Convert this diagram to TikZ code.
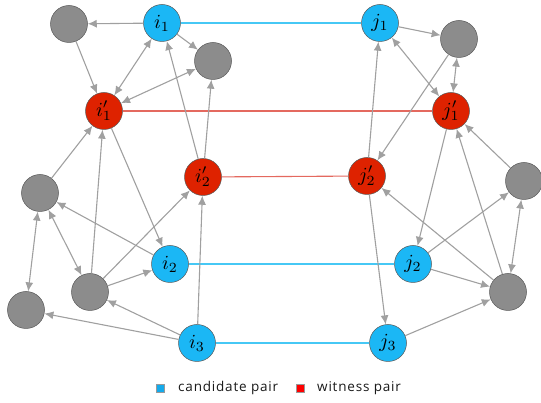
\documentclass[tikz,border=0pt]{standalone}
\usepackage{fontspec}
\newfontfamily\legendfont[LetterSpace=6]{Open Sans}
\usetikzlibrary{arrows.meta}
\definecolor{nblue}{RGB}{27,183,245}
\definecolor{nred}{RGB}{222,34,0}
\definecolor{ngray}{RGB}{140,140,140}
\definecolor{egray}{RGB}{160,160,160}
\definecolor{lblue}{RGB}{70,200,245}
\definecolor{lred}{RGB}{228,105,95}
\definecolor{sqblue}{RGB}{20,170,235}
\newcommand{\lbl}[1]{\scalebox{2}{$#1$}}
\tikzset{
  vtx/.style={circle,minimum size=37pt,inner sep=0pt,draw=black!65,line width=0.5pt},
  cand/.style={vtx,fill=nblue},
  wit/.style={vtx,fill=nred},
  oth/.style={vtx,fill=ngray},
  edge/.style={draw=egray,line width=1.1pt},
  tip/.tip={Latex[length=9pt,width=8pt]},
  ar/.style={edge,-tip},
  bi/.style={edge,tip-tip},
  bluepair/.style={draw=lblue,line width=1.1pt},
  redpair/.style={draw=lred,line width=1.1pt},
  sq/.style={minimum size=8pt,inner sep=0pt,draw=black!40,line width=0.3pt},
  lgtext/.style={anchor=west,inner sep=0pt,text=black!90,font=\legendfont\fontsize{13.5}{13.5}\selectfont}
}
\begin{document}
\begin{tikzpicture}[x=1pt,y=1pt]
\useasboundingbox (0,0) rectangle (541,403);
% nodes
\node[oth] (g1) at (69,379) {};
\node[cand] (i1) at (162,380) {\lbl{i_1}};
\node[oth] (g2) at (213,342) {};
\node[wit] (i1p) at (104,292) {\lbl{i'_1}};
\node[wit] (i2p) at (203,226) {\lbl{i'_2}};
\node[oth] (g3) at (40,210) {};
\node[cand] (i2) at (170,139) {\lbl{i_2}};
\node[oth] (g4) at (90,111) {};
\node[oth] (g5) at (26,93) {};
\node[cand] (i3) at (197,60) {\lbl{i_3}};
\node[cand] (j1) at (380,380) {\lbl{j_1}};
\node[oth] (g6) at (459,364) {};
\node[wit] (j1p) at (451,292) {\lbl{j'_1}};
\node[wit] (j2p) at (367,227) {\lbl{j'_2}};
\node[oth] (g7) at (524,222) {};
\node[cand] (j2) at (413,139) {\lbl{j_2}};
\node[oth] (g8) at (508,111) {};
\node[cand] (j3) at (388,60) {\lbl{j_3}};
% pair lines
\draw[bluepair] (i1) -- (j1);
\draw[redpair] (i1p) -- (j1p);
\draw[redpair] (i2p) -- (j2p);
\draw[bluepair] (i2) -- (j2);
\draw[bluepair] (i3) -- (j3);
% left edges
\draw[ar] (i1) -- (g1);
\draw[ar] (g1) -- (i1p);
\draw[bi] (i1) -- (i1p);
\draw[ar] (i1) -- (g2);
\draw[bi] (g2) -- (i1p);
\draw[ar] (i2p) -- (i1);
\draw[ar] (i2p) -- (g2);
\draw[ar] (g3) -- (i1p);
\draw[ar] (g4) -- (i1p);
\draw[ar] (i1p) -- (i2);
\draw[ar] (g4) -- (i2p);
\draw[ar] (i2) -- (g3);
\draw[bi] (g3) -- (g4);
\draw[bi] (g3) -- (g5);
\draw[ar] (g4) -- (i2);
\draw[ar] (i3) -- (g4);
\draw[ar] (i3) -- (g5);
\draw[ar] (i3) -- (i2p);
% right edges
\draw[ar] (j1) -- (g6);
\draw[bi] (j1) -- (j1p);
\draw[bi] (g6) -- (j1p);
\draw[ar] (g6) -- (j2p);
\draw[ar] (j2p) -- (j1);
\draw[ar] (g7) -- (j1p);
\draw[ar] (j1p) -- (j2);
\draw[ar] (g8) -- (j1p);
\draw[ar] (j2) -- (g7);
\draw[ar] (g8) -- (j2p);
\draw[bi] (g7) -- (g8);
\draw[ar] (j2) -- (g8);
\draw[ar] (j2p) -- (j3);
\draw[ar] (j3) -- (g8);
% legend
\node[sq,fill=sqblue] (lb) at (160.5,15) {};
\node[lgtext] (lbt) at (178,15) {candidate pair};
\node[sq,fill=red] (lr) at (300.5,15) {};
\node[lgtext] (lrt) at (317,15) {witness pair};
\end{tikzpicture}
\end{document}
